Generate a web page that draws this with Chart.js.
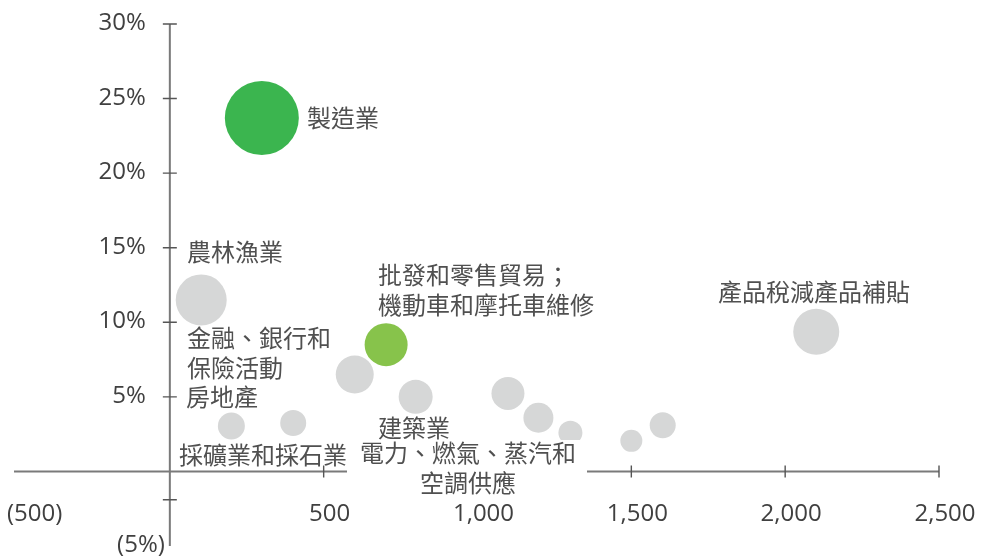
<!DOCTYPE html>
<html>
<head>
<meta charset="utf-8">
<script src="https://cdn.jsdelivr.net/npm/chart.js@4/dist/chart.umd.min.js"></script>
<style>
  html, body { margin: 0; padding: 0; background: #fff; }
  #wrap { width: 981px; height: 558px; position: relative; }
</style>
</head>
<body>
<div id="wrap"><canvas id="chart"></canvas></div>
<script>
// sectors (grey ones first so the green ones are drawn on top)
const categories = [
    '農林漁業',
    '採礦業和採石業',
    '電力、燃氣、蒸汽和空調供應',
    '建築業',
    '金融、銀行和保險活動',
    '房地產',
    '產品稅減產品補貼',
    '', '', '', '',
    '製造業',
    '批發和零售貿易；機動車和摩托車維修'
];
const xValues = [102, 401, 1302, 799, 601, 200, 2101, 1099, 1198, 1500, 1602, 299, 703];
const yValues = [11.5, 3.25, 2.6, 5.0, 6.5, 3.05, 9.36, 5.23, 3.6, 2.05, 3.1, 23.7, 8.5];
const sizes = [25.5, 13, 12, 17, 19, 13.5, 23, 16.5, 15, 11, 13, 37, 21.5];

const xTickValues = [-500, 500, 1000, 1500, 2000, 2500];
const xTickLabels = ['(500)', '500', '1,000', '1,500', '2,000', '2,500'];
const yTickValues = [30, 25, 20, 15, 10, 5, -5];
const yTickLabels = ['30%', '25%', '20%', '15%', '10%', '5%', '(5%)'];

const GREY = '#d6d7d7';
const highlight = {
    '製造業': '#3bb54f',
    '批發和零售貿易；機動車和摩托車維修': '#87c34b'
};

// where the sector names are written (pixels, centre of first line)
const labelLayout = {
    '製造業': { x: 307, y: 118, lines: ['製造業'] },
    '農林漁業': { x: 187, y: 252, lines: ['農林漁業'] },
    '批發和零售貿易；機動車和摩托車維修': { x: 378, y: 275, lines: ['批發和零售貿易；', '機動車和摩托車維修'] },
    '產品稅減產品補貼': { x: 718, y: 292, lines: ['產品稅減產品補貼'] },
    '金融、銀行和保險活動': { x: 187, y: 338, lines: ['金融、銀行和', '保險活動'] },
    '房地產': { x: 186, y: 397, lines: ['房地產'] },
    '建築業': { x: 378, y: 428, lines: ['建築業'] },
    '採礦業和採石業': { x: 179, y: 455, lines: ['採礦業和採石業'] },
    '電力、燃氣、蒸汽和空調供應': { x: 468, y: 453, align: 'center',
        lines: ['電力、燃氣、蒸汽和', '空調供應'], box: [347, 440, 240, 60] }
};

const points = categories.map((c, i) => ({ x: xValues[i], y: yValues[i], r: sizes[i] }));
const colors = categories.map(c => highlight[c] || GREY);

const axesPlugin = {
    id: 'crossAxes',
    beforeDatasetsDraw(chart) {
        const ctx = chart.ctx;
        const xs = chart.scales.x, ys = chart.scales.y;
        const x0 = xs.getPixelForValue(0);
        const y0 = ys.getPixelForValue(0);
        ctx.save();
        ctx.strokeStyle = '#7a7a7a';
        ctx.lineWidth = 2;
        ctx.beginPath();
        ctx.moveTo(xs.left - 2, y0);
        ctx.lineTo(xs.right, y0);
        ctx.moveTo(x0, ys.top);
        ctx.lineTo(x0, ys.bottom);
        ctx.stroke();

        // little crossing ticks
        ctx.strokeStyle = '#555';
        ctx.lineWidth = 1.4;
        ctx.beginPath();
        xTickValues.forEach(v => {
            if (v <= 0) return;
            const px = xs.getPixelForValue(v);
            ctx.moveTo(px, y0 - 6);
            ctx.lineTo(px, y0 + 6);
        });
        [30, 25, 20, 15, 10, 5, -1.9].forEach(v => {
            const py = ys.getPixelForValue(v);
            ctx.moveTo(x0 - 7, py);
            ctx.lineTo(x0 + 7, py);
        });
        ctx.stroke();

        // tick labels
        ctx.fillStyle = '#404040';
        ctx.font = '24px "Open Sans"';
        ctx.textBaseline = 'alphabetic';
        ctx.textAlign = 'left';
        xTickValues.forEach((v, i) => {
            const w = ctx.measureText(xTickLabels[i]).width;
            let left = xs.getPixelForValue(v) + 6 - w / 2;
            if (left < 7) left = 7;
            ctx.fillText(xTickLabels[i], left, y0 + 50);
        });
        ctx.textAlign = 'right';
        yTickValues.forEach((v, i) => {
            const right = v < 0 ? x0 - 5 : x0 - 24;
            ctx.fillText(yTickLabels[i], right, ys.getPixelForValue(v) + 6);
        });
        ctx.restore();
    },
    afterDatasetsDraw(chart) {
        const ctx = chart.ctx;
        ctx.save();
        ctx.font = '24px "Noto Sans CJK TC"';
        ctx.textBaseline = 'alphabetic';
        categories.forEach(c => {
            const lay = labelLayout[c];
            if (!lay) return;
            if (lay.box) {
                ctx.fillStyle = '#fff';
                ctx.fillRect(lay.box[0], lay.box[1], lay.box[2], lay.box[3]);
            }
            ctx.fillStyle = '#505050';
            ctx.textAlign = lay.align || 'left';
            lay.lines.forEach((line, k) => {
                ctx.fillText(line, lay.x, lay.y + 9 + k * 30);
            });
        });
        ctx.restore();
    }
};

new Chart(document.getElementById('chart'), {
    type: 'bubble',
    data: {
        datasets: [{
            data: points,
            backgroundColor: colors,
            hoverBackgroundColor: colors,
            borderWidth: 0,
            hoverBorderWidth: 0,
            clip: false
        }]
    },
    options: {
        responsive: true,
        maintainAspectRatio: false,
        animation: false,
        layout: { autoPadding: false, padding: { left: 16, right: 42, top: 24, bottom: 12 } },
        scales: {
            x: { type: 'linear', min: -500, max: 2500, display: false },
            y: { type: 'linear', min: -5, max: 30, display: false }
        },
        plugins: {
            legend: { display: false },
            tooltip: { enabled: false }
        }
    },
    plugins: [axesPlugin]
});
</script>
</body>
</html>
